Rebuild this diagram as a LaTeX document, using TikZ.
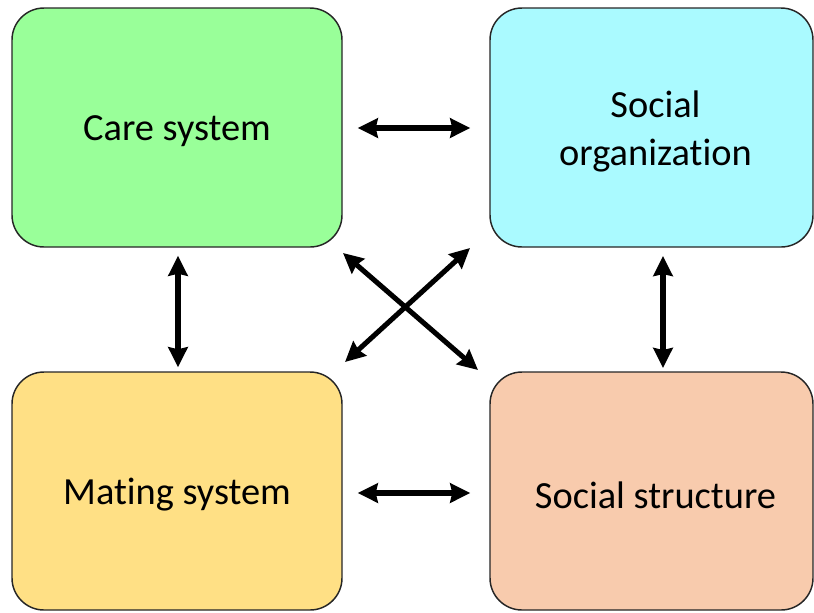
\documentclass[tikz,border=0pt]{standalone}
\usepackage{fontspec}
\setmainfont{Carlito}[Ligatures={NoCommon}]
\usetikzlibrary{arrows.meta}
\definecolor{caregreen}{HTML}{99FF99}
\definecolor{orgcyan}{HTML}{AAFAFF}
\definecolor{matyellow}{HTML}{FFE085}
\definecolor{strsalmon}{HTML}{F8CBAD}
\tikzset{
  box/.style={draw=black!85, line width=1.1pt, rounded corners=24pt, inner sep=0pt},
  boxtext/.style={align=center, font=\fontsize{28.8}{36}\selectfont, yshift=-3pt},
  tip/.style={Stealth[length=15pt,width=14.5pt,inset=1.5pt]},
  link/.style={line width=3.8pt, {Stealth[length=15pt,width=14.5pt,inset=1.5pt]}-{Stealth[length=15pt,width=14.5pt,inset=1.5pt]}}
}
\begin{document}
\begin{tikzpicture}[x=0.75pt,y=-0.75pt]
\useasboundingbox (0,0) rectangle (814,612);
\node[box, fill=caregreen, minimum width=247.5pt, minimum height=179.25pt,
  label={[boxtext]center:Care system}] (care) at (177,127.5) {};
\node[box, fill=orgcyan, minimum width=242.25pt, minimum height=179.25pt,
  label={[boxtext, xshift=3pt]center:Social\\organization}] (org) at (651.5,127.5) {};
\node[box, fill=matyellow, minimum width=247.5pt, minimum height=178.5pt,
  label={[boxtext]center:Mating system}] (mat) at (177,491) {};
\node[box, fill=strsalmon, minimum width=242.25pt, minimum height=178.5pt,
  label={[boxtext, xshift=3pt]center:Social structure}] (str) at (651.5,491) {};
\coordinate (dA1) at (343,253);
\coordinate (dA2) at (478,370);
\coordinate (dB1) at (470,248);
\coordinate (dB2) at (345,362);
\coordinate (rv1) at (663,256);
\coordinate (rv2) at (663,368);
\draw[link, shorten <=11.25pt, shorten >=14.25pt] (care.east |- 0,128) -- (org.west |- 0,128);
\draw[link, shorten <=11.25pt, shorten >=14.25pt] (mat.east |- 0,493) -- (str.west |- 0,493);
\draw[link, shorten <=6pt, shorten >=3pt] ([xshift=0.75pt]care.south) -- ([xshift=0.75pt]mat.north);
\draw[link] (rv1) -- (rv2);
\draw[link] (dA1) -- (dA2);
\draw[link] (dB1) -- (dB2);
\end{tikzpicture}
\end{document}
